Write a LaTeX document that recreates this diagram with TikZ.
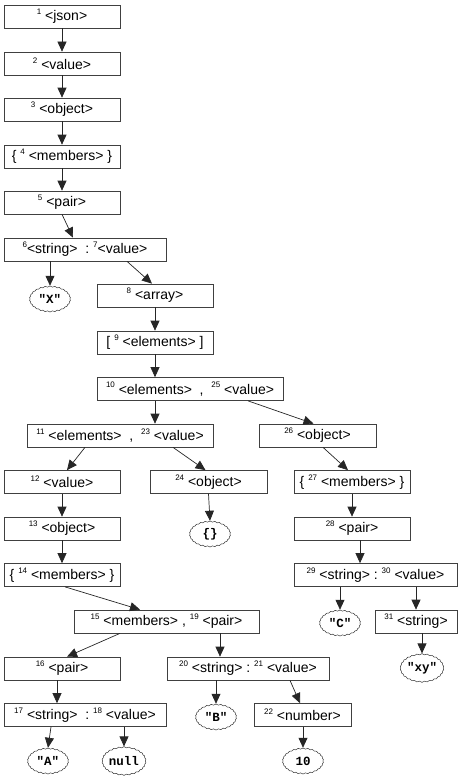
\documentclass[tikz,border=0pt]{standalone}
\usepackage{fontspec}
\setmainfont{Liberation Sans}
\newfontfamily\cloudfont{Liberation Mono}
\usetikzlibrary{arrows.meta,shapes.symbols}
\newcommand{\nb}[1]{\raisebox{0.45em}{\fontsize{8}{9}\selectfont #1}}
\tikzset{
  box/.style={draw=black!75, line width=0.7pt, fill=white, minimum height=23pt, inner sep=0pt,
    font=\fontsize{14}{16}\selectfont},
  cl/.style={cloud, cloud puffs=26, cloud puff arc=100, aspect=1.6, draw=black!80, line width=0.5pt,
    inner sep=0pt, minimum width=41pt, minimum height=26pt, font=\cloudfont\bfseries\fontsize{12.5}{13}\selectfont},
  arr/.style={draw=black!85, line width=0.7pt, -{Triangle[length=10pt,width=9pt]}}
}
\begin{document}
\begin{tikzpicture}[x=1pt,y=-1pt]
\useasboundingbox (0,0) rectangle (474,784);
% boxes
\node[box, minimum width=116pt] (b1) at (62,16.5) {\nb{1} <json>};
\node[box, minimum width=116pt] (b2) at (62,63.5) {\nb{2} <value>};
\node[box, minimum width=116pt] (b3) at (62,109.5) {\nb{3} <object>};
\node[box, minimum width=116pt] (b4) at (62,156.5) {\{\ \nb{4} <members>\ \}};
\node[box, minimum width=116pt] (b5) at (62,202.5) {\nb{5} <pair>};
\node[box, minimum width=162pt] (b6) at (85,249.5) {\nb{6}<string>\ \ :\ \nb{7}<value>};
\node[cl] (cX) at (50,299) {"X"};
\node[box, minimum width=116pt] (b8) at (155,295.5) {\nb{8} <array>};
\node[box, minimum width=116pt] (b9) at (155,342.5) {[\ \nb{9} <elements>\ ]};
\node[box, minimum width=186pt] (b10) at (190,389) {\nb{10} <elements>\ \ ,\ \ \nb{25} <value>};
\node[box, minimum width=186pt] (b11) at (120,435.5) {\nb{11} <elements>\ \ ,\ \ \nb{23} <value>};
\node[box, minimum width=117pt] (b26) at (317.5,435.5) {\nb{26} <object>};
\node[box, minimum width=116pt] (b12) at (62,482) {\nb{12} <value>};
\node[box, minimum width=117pt] (b24) at (208.5,482) {\nb{24} <object>};
\node[box, minimum width=116pt] (b27) at (352,482) {\{\ \nb{27} <members>\ \}};
\node[box, minimum width=116pt] (b13) at (62,528.5) {\nb{13} <object>};
\node[cl] (cE) at (210,534) {\{\}};
\node[box, minimum width=116pt] (b28) at (352,528.5) {\nb{28} <pair>};
\node[box, minimum width=116pt] (b14) at (62,575) {\{\ \nb{14} <members>\ \}};
\node[box, minimum width=163pt] (b29) at (375.5,575) {\nb{29} <string>\ :\ \nb{30} <value>};
\node[box, minimum width=185pt] (b15) at (166.5,621.5) {\nb{15} <members>\ ,\ \nb{19} <pair>};
\node[cl] (cC) at (340,623) {"C"};
\node[box, minimum width=82pt] (b31) at (416,621.5) {\nb{31} <string>};
\node[box, minimum width=116pt] (b16) at (62,668.5) {\nb{16} <pair>};
\node[box, minimum width=162pt] (b20) at (248,668.5) {\nb{20} <string>\ :\ \nb{21} <value>};
\node[cl] (cXY) at (422,668) {"xy"};
\node[box, minimum width=162pt] (b17) at (85,715) {\nb{17} <string>\ \ :\ \nb{18} <value>};
\node[cl] (cB) at (216,717) {"B"};
\node[box, minimum width=97pt] (b22) at (302.5,715) {\nb{22} <number>};
\node[cl] (cA) at (48,761) {"A"};
\node[cl, minimum width=44pt] (cN) at (124,761) {null};
\node[cl] (c10) at (303,761) {10};
% connectors
\draw[arr] (b1.south) -- (b2.north);
\draw[arr] (b2.south) -- (b3.north);
\draw[arr] (b3.south) -- (b4.north);
\draw[arr] (b4.south) -- (b5.north);
\draw[arr] (b5.south) -- ([xshift=-12pt]b6.north);
\draw[arr] (b6.south -| cX) -- (cX.north);
\draw[arr] ([xshift=42pt]b6.south) -- ([xshift=-3pt]b8.north);
\draw[arr] (b8.south) -- (b9.north);
\draw[arr] (b9.south) -- (b10.north -| b9.south);
\draw[arr] (b10.south -| b9.south) -- (b11.north -| b9.south);
\draw[arr] ([xshift=58pt]b10.south) -- ([xshift=-4pt]b26.north);
\draw[arr] ([xshift=-35pt]b11.south) -- ([xshift=5pt]b12.north);
\draw[arr] ([xshift=53pt]b11.south) -- ([xshift=-3pt]b24.north);
\draw[arr] ([xshift=5.5pt]b26.south) -- ([xshift=-4pt]b27.north);
\draw[arr] (b12.south) -- (b13.north);
\draw[arr] (b24.south) -- (cE.north);
\draw[arr] (b27.south) -- (b28.north);
\draw[arr] (b13.south) -- (b14.north);
\draw[arr] ([xshift=8pt]b28.south) -- ([xshift=-15.5pt]b29.north);
\draw[arr] ([xshift=3pt]b14.south) -- ([xshift=-26.5pt]b15.north);
\draw[arr] (b29.south -| cC) -- (cC.north);
\draw[arr] (b29.south -| b31) -- (b31.north);
\draw[arr] ([xshift=-46.5pt]b15.south) -- ([xshift=5pt]b16.north);
\draw[arr] ([xshift=53.5pt]b15.south) -- ([xshift=-28pt]b20.north);
\draw[arr] ([xshift=6pt]b31.south) -- (cXY.north);
\draw[arr] ([xshift=-5pt]b16.south) -- ([xshift=-28pt]b17.north);
\draw[arr] (b20.south -| cB) -- (cB.north);
\draw[arr] ([xshift=42pt]b20.south) -- ([xshift=-2.5pt]b22.north);
\draw[arr] ([xshift=-34pt]b17.south) -- (cA.north);
\draw[arr] (b17.south -| cN) -- (cN.north);
\draw[arr] (b22.south -| c10) -- (c10.north);
\end{tikzpicture}
\end{document}
